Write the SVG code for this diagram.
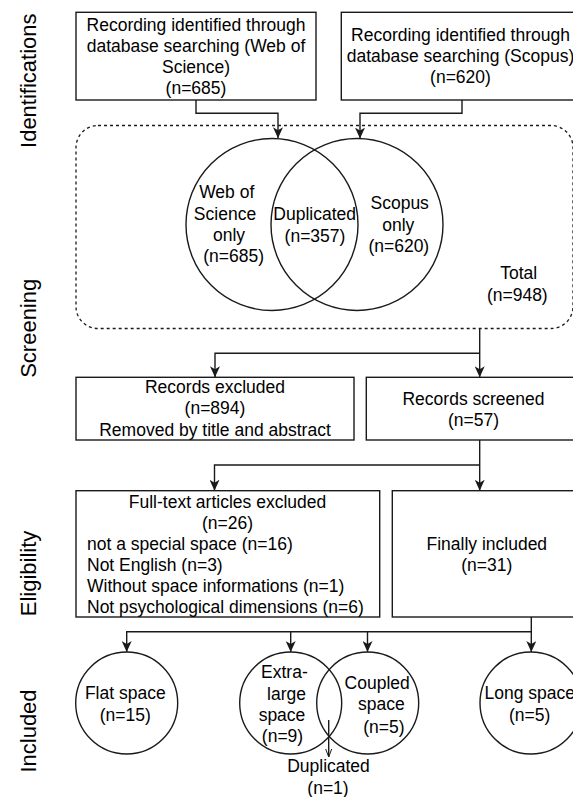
<svg xmlns="http://www.w3.org/2000/svg" width="573" height="797" viewBox="0 0 573 797">
<style>
text{font-family:"Liberation Sans",Arial,sans-serif;font-size:17.5px;fill:#000}
.c{text-anchor:middle}
.side{font-size:22px;text-anchor:middle}
.box{fill:#fff;stroke:#1a1a1a;stroke-width:1.4}
.circ{fill:none;stroke:#1a1a1a;stroke-width:1.4}
.dash{fill:none;stroke:#1a1a1a;stroke-width:1.3;stroke-dasharray:3 3}
.ln{fill:none;stroke:#1a1a1a;stroke-width:1.4}
</style>
<defs>
<marker id="ah" markerUnits="userSpaceOnUse" viewBox="0 0 11 10" refX="11" refY="5" markerWidth="11" markerHeight="10" orient="auto">
<path d="M0,0 L11,5 L0,10 L3,5 z" fill="#1a1a1a"/>
</marker>
<marker id="oah" markerUnits="userSpaceOnUse" viewBox="0 0 8 8" refX="8" refY="4" markerWidth="8" markerHeight="8" orient="auto">
<path d="M0,1 L8,4 L0,7" fill="none" stroke="#1a1a1a" stroke-width="1"/>
</marker>
</defs>

<g id="labels">
<text class="side" transform="translate(35.5,80.7) rotate(-90)">Identifications</text>
<text class="side" transform="translate(35.5,328.3) rotate(-90)">Screening</text>
<text class="side" transform="translate(35.5,573.5) rotate(-90)">Eligibility</text>
<text class="side" transform="translate(35.5,731) rotate(-90)">Included</text>
</g>

<g id="screening-area">
<rect class="dash" x="76" y="125.5" width="497" height="203" rx="22" ry="22"/>
</g>

<g id="connectors">
<path class="ln" d="M196,100 V113.3 H278 V138.3" marker-end="url(#ah)"/>
<path class="ln" d="M462,100 V113.3 H360 V138.6" marker-end="url(#ah)"/>
<path class="ln" d="M479.7,328.5 V377.3" marker-end="url(#ah)"/>
<path class="ln" d="M479.7,353.3 H215 V377.3" marker-end="url(#ah)"/>
<path class="ln" d="M479.7,440 V490.7" marker-end="url(#ah)"/>
<path class="ln" d="M479.7,465 H214.5 V490.7" marker-end="url(#ah)"/>
<path class="ln" d="M531.3,617 V652" marker-end="url(#ah)"/>
<path class="ln" d="M531.3,631.7 H126.7 V652" marker-end="url(#ah)"/>
<path class="ln" d="M290.7,631.7 V652" marker-end="url(#ah)"/>
<path class="ln" d="M367.5,631.7 V652" marker-end="url(#ah)"/>
<path class="ln" d="M328.7,720 V757" stroke-width="1" marker-end="url(#oah)"/>
</g>

<g id="wos-box">
<rect class="box" x="76" y="12.3" width="240" height="87.7"/>
<text class="c" x="196" y="30.5">Recording identified through</text>
<text class="c" x="196" y="51.5">database searching (Web of</text>
<text class="c" x="196" y="72.5">Science)</text>
<text class="c" x="196" y="93.5">(n=685)</text>
</g>

<g id="scopus-box">
<rect class="box" x="341.3" y="12.3" width="239" height="87.7"/>
<text class="c" x="460.5" y="40.5">Recording identified through</text>
<text class="c" x="460.5" y="61.5">database searching (Scopus)</text>
<text class="c" x="460.5" y="82.5">(n=620)</text>
</g>

<g id="venn">
<circle class="circ" cx="272" cy="224.5" r="86"/>
<circle class="circ" cx="357" cy="224.5" r="86"/>
<text class="c" x="226.7" y="197.5">Web of</text>
<text class="c" x="225" y="219.5">Science</text>
<text class="c" x="229" y="241">only</text>
<text class="c" x="233.7" y="262">(n=685)</text>
<text class="c" x="314.7" y="220.3">Duplicated</text>
<text class="c" x="315" y="241.5">(n=357)</text>
<text class="c" x="399.7" y="209.3">Scopus</text>
<text class="c" x="398.3" y="231">only</text>
<text class="c" x="398.8" y="252">(n=620)</text>
</g>

<g id="total">
<text class="c" x="518.7" y="279.3">Total</text>
<text class="c" x="517.3" y="301">(n=948)</text>
</g>

<g id="records-excluded">
<rect class="box" x="76" y="377.3" width="278" height="62.7"/>
<text class="c" x="215" y="392.7">Records excluded</text>
<text class="c" x="215" y="414.3">(n=894)</text>
<text class="c" x="215" y="436">Removed by title and abstract</text>
</g>

<g id="records-screened">
<rect class="box" x="366.3" y="377.3" width="214" height="62.7"/>
<text class="c" x="473.5" y="405">Records screened</text>
<text class="c" x="473.5" y="426">(n=57)</text>
</g>

<g id="fulltext-excluded">
<rect class="box" x="76" y="490.7" width="303.7" height="126.3"/>
<text class="c" x="227.5" y="507.5">Full-text articles excluded</text>
<text class="c" x="227.5" y="528.5">(n=26)</text>
<text x="87" y="550">not a special space (n=16)</text>
<text x="87" y="571">Not English (n=3)</text>
<text x="87" y="592">Without space informations (n=1)</text>
<text x="87" y="613">Not psychological dimensions (n=6)</text>
</g>

<g id="finally-included">
<rect class="box" x="392.3" y="490.7" width="189" height="126.3"/>
<text class="c" x="486.8" y="549.5">Finally included</text>
<text class="c" x="486.8" y="570.5">(n=31)</text>
</g>

<g id="flat-space">
<circle class="circ" cx="126.7" cy="703" r="51"/>
<text class="c" x="125.3" y="699.3">Flat space</text>
<text class="c" x="125.3" y="721">(n=15)</text>
</g>

<g id="extra-large-space">
<circle class="circ" cx="290.7" cy="703" r="51"/>
<text class="c" x="284.4" y="678">Extra-</text>
<text class="c" x="286.5" y="699.5">large</text>
<text class="c" x="282" y="721">space</text>
<text class="c" x="282.5" y="742">(n=9)</text>
</g>

<g id="coupled-space">
<circle class="circ" cx="367.7" cy="703" r="51"/>
<text class="c" x="377.2" y="688.7">Coupled</text>
<text class="c" x="381.3" y="710.3">space</text>
<text class="c" x="383.8" y="732.7">(n=5)</text>
</g>

<g id="long-space">
<circle class="circ" cx="531" cy="703" r="51"/>
<text class="c" x="529.7" y="699.3">Long space</text>
<text class="c" x="529.7" y="721">(n=5)</text>
</g>

<g id="duplicated-included">
<text class="c" x="328.5" y="771.7">Duplicated</text>
<text class="c" x="328" y="794">(n=1)</text>
</g>
</svg>
